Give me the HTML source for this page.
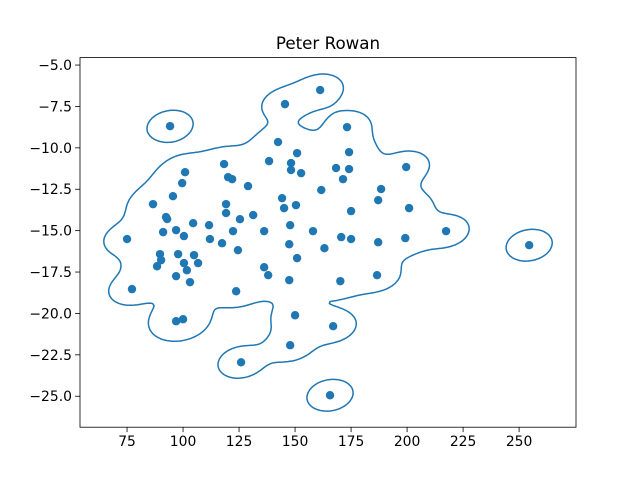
<!DOCTYPE html>
<html><head><meta charset="utf-8"><style>
body{margin:0;background:#fff;}
svg{display:block;font-family:"DejaVu Sans","Liberation Sans",sans-serif;}
</style></head><body>
<svg id="chart" width="640" height="480" viewBox="0 0 640 480" xmlns="http://www.w3.org/2000/svg">
<rect width="640" height="480" fill="#fff"/>
<text x="328" y="49" text-anchor="middle" font-size="16.7" fill="#000">Peter Rowan</text>
<g id="contour"></g>
<g id="points"></g>
<rect x="80" y="57.6" width="496" height="369.6" fill="none" stroke="#000" stroke-width="0.8"/>
<g id="xaxis"></g>
<g id="yaxis"></g>
</svg>
<script>
const xs = [94.2,145.5,161.2,142.4,173.2,174.1,150.9,138.4,148.2,148.2,152.7,118.3,120.1,121.9,100.9,99.6,129.0,168.3,174.1,171.4,199.6,161.7,188.4,95.5,86.6,144.2,145.1,150.4,119.2,119.2,131.3,125.4,175.0,187.1,200.9,92.4,92.9,104.5,111.6,96.9,91.1,122.3,136.2,147.8,158.0,217.4,75.0,100.4,112.0,117.4,147.4,170.6,175.0,187.1,199.2,254.5,163.1,124.5,89.7,97.8,104.9,150.9,90.2,100.4,106.7,88.4,101.7,136.2,138.0,96.9,103.1,147.4,186.6,170.2,77.2,123.7,150.0,100.0,96.9,167.0,147.8,125.9,165.6];
const ys = [-8.69,-7.36,-6.51,-9.65,-8.75,-10.26,-10.32,-10.80,-10.92,-11.34,-11.53,-10.98,-11.77,-11.89,-11.47,-12.13,-12.31,-11.22,-11.28,-11.89,-11.16,-12.55,-12.49,-12.92,-13.40,-13.04,-13.64,-13.46,-13.40,-13.94,-14.06,-14.31,-13.82,-13.16,-13.64,-14.18,-14.30,-14.55,-14.67,-14.97,-15.09,-15.03,-15.03,-14.67,-15.03,-15.03,-15.51,-15.33,-15.51,-15.76,-15.82,-15.39,-15.51,-15.70,-15.45,-15.88,-16.06,-16.18,-16.42,-16.42,-16.48,-16.66,-16.78,-16.96,-16.96,-17.15,-17.39,-17.21,-17.69,-17.75,-18.11,-17.99,-17.69,-18.05,-18.53,-18.66,-20.11,-20.35,-20.47,-20.77,-21.92,-22.95,-24.94];
const xTicks = [75,100,125,150,175,200,225,250];
const yTicks = [-5,-7.5,-10,-12.5,-15,-17.5,-20,-22.5,-25];
const X0=54.0,X1=275.4,Y0=-26.87,Y1=-4.55;
const L=80,R=576,T=57.6,B=427.2;
const sx=v=>L+(v-X0)/(X1-X0)*(R-L);
const sy=v=>B-(v-Y0)/(Y1-Y0)*(B-T);
const NS="http://www.w3.org/2000/svg";
function mk(t,a,p){const e=document.createElementNS(NS,t);for(const k in a)e.setAttribute(k,a[k]);p.appendChild(e);return e;}
const xg=document.getElementById('xaxis'),yg=document.getElementById('yaxis');
xTicks.forEach(v=>{const x=sx(v);
 const l=mk('line',{x1:x,x2:x,y1:B,y2:B+4.9,stroke:'#000','stroke-width':0.8},xg);
 
 
 const t=mk('text',{x:x,y:B+19,'text-anchor':'middle','font-size':13.9},xg);t.textContent=String(v);
 
 });
yTicks.forEach(v=>{const y=sy(v);
 const l=mk('line',{x1:L-4.9,x2:L,y1:y,y2:y,stroke:'#000','stroke-width':0.8},yg);
 
 
 const t=mk('text',{x:L-8,y:y+5,'text-anchor':'end','font-size':13.9},yg);t.textContent=(v<0?'\u2212':'')+Math.abs(v).toFixed(1);
 
 });
const n=xs.length;
let mx=0,my=0;for(let i=0;i<n;i++){mx+=xs[i];my+=ys[i];}mx/=n;my/=n;
let cxx=0,cyy=0,cxy=0;for(let i=0;i<n;i++){const a=xs[i]-mx,b=ys[i]-my;cxx+=a*a;cyy+=b*b;cxy+=a*b;}
cxx/=(n-1);cyy/=(n-1);cxy/=(n-1);
const f=0.21,f2=f*f;
const kxx=cxx*f2,kyy=cyy*f2,kxy=cxy*f2,det=kxx*kyy-kxy*kxy;
const ixx=kyy/det,iyy=kxx/det,ixy=-kxy/det;
function dens(x,y){let s=0;for(let i=0;i<n;i++){const a=x-xs[i],b=y-ys[i];s+=Math.exp(-0.5*(a*a*ixx+2*a*b*ixy+b*b*iyy));}return s;}
const rx=10.3/Math.sqrt(kxx);
const level=Math.exp(-0.5*rx*rx);
const step=2,W=Math.ceil((R-L)/step)+1,H=Math.ceil((B-T)/step)+1;
const g=[];for(let j=0;j<H;j++){const row=[];const py=T+j*step;const dy=Y1-(py-T)/(B-T)*(Y1-Y0);
 for(let i=0;i<W;i++){const px=L+i*step;const dx=X0+(px-L)/(R-L)*(X1-X0);row.push(dens(dx,dy)-level);}g.push(row);}
let d='';
function ip(a,b){return a/(a-b);}
for(let j=0;j<H-1;j++)for(let i=0;i<W-1;i++){
 const v0=g[j][i],v1=g[j][i+1],v2=g[j+1][i+1],v3=g[j+1][i];
 const x=L+i*step,y=T+j*step;
 const c=(v0>0?8:0)|(v1>0?4:0)|(v2>0?2:0)|(v3>0?1:0);
 if(c===0||c===15)continue;
 const top=[x+step*ip(v0,v1),y],rig=[x+step,y+step*ip(v1,v2)],bot=[x+step*ip(v3,v2),y+step],lef=[x,y+step*ip(v0,v3)];
 const segs={1:[[lef,bot]],2:[[bot,rig]],3:[[lef,rig]],4:[[top,rig]],5:[[lef,top],[bot,rig]],6:[[top,bot]],7:[[lef,top]],8:[[lef,top]],9:[[top,bot]],10:[[lef,bot],[top,rig]],11:[[top,rig]],12:[[lef,rig]],13:[[bot,rig]],14:[[lef,bot]]}[c];
 segs.forEach(s=>{d+='M'+s[0][0].toFixed(1)+' '+s[0][1].toFixed(1)+'L'+s[1][0].toFixed(1)+' '+s[1][1].toFixed(1);});
}
const cp=mk('path',{d:d,fill:'none',stroke:'#1f77b4','stroke-width':1.5,'stroke-linecap':'round'},document.getElementById('contour'));


const pg=document.getElementById('points');
for(let i=0;i<n;i++){const c=mk('circle',{cx:sx(xs[i]),cy:sy(ys[i]),r:4.2,fill:'#1f77b4'},pg);
 
 }
</script>
</body></html>
